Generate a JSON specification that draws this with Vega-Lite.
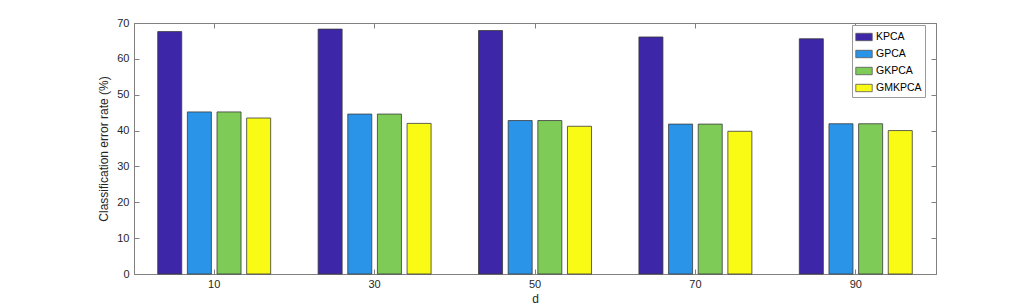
{
  "$schema": "https://vega.github.io/schema/vega-lite/v6.json",
  "width": 802,
  "height": 251,
  "autosize": {"type": "none"},
  "padding": {"left": 134, "top": 23, "right": 99, "bottom": 34},
  "background": "white",
  "config": {
    "font": "Liberation Sans",
    "view": {"stroke": "#808080", "strokeWidth": 1},
    "axis": {
      "domainColor": "#808080",
      "tickColor": "#808080",
      "labelColor": "#262626",
      "titleColor": "#262626",
      "labelFont": "Liberation Sans",
      "titleFont": "Liberation Sans",
      "labelFontSize": 11,
      "titleFontSize": 12,
      "titleFontWeight": "normal",
      "grid": false
    }
  },
  "data": {
    "values": [
      {"d": "10", "method": "KPCA", "rate": 67.6},
      {"d": "10", "method": "GPCA", "rate": 45.2},
      {"d": "10", "method": "GKPCA", "rate": 45.2},
      {"d": "10", "method": "GMKPCA", "rate": 43.5},
      {"d": "30", "method": "KPCA", "rate": 68.3},
      {"d": "30", "method": "GPCA", "rate": 44.6},
      {"d": "30", "method": "GKPCA", "rate": 44.6},
      {"d": "30", "method": "GMKPCA", "rate": 42.0},
      {"d": "50", "method": "KPCA", "rate": 67.9},
      {"d": "50", "method": "GPCA", "rate": 42.8},
      {"d": "50", "method": "GKPCA", "rate": 42.8},
      {"d": "50", "method": "GMKPCA", "rate": 41.2},
      {"d": "70", "method": "KPCA", "rate": 66.1},
      {"d": "70", "method": "GPCA", "rate": 41.8},
      {"d": "70", "method": "GKPCA", "rate": 41.8},
      {"d": "70", "method": "GMKPCA", "rate": 39.8},
      {"d": "90", "method": "KPCA", "rate": 65.6},
      {"d": "90", "method": "GPCA", "rate": 41.9},
      {"d": "90", "method": "GKPCA", "rate": 41.9},
      {"d": "90", "method": "GMKPCA", "rate": 40.0}
    ]
  },
  "layer": [
    {
      "mark": {"type": "bar", "stroke": "#3a3a3a", "strokeWidth": 0.8},
      "encoding": {
        "x": {
          "field": "d", "type": "ordinal", "sort": null,
          "scale": {"paddingInner": 0, "paddingOuter": 0},
          "axis": {"title": "d", "labelAngle": 0, "tickSize": -5, "labelPadding": 9, "titlePadding": 4, "orient": "bottom"}
        },
        "xOffset": {
          "field": "method", "type": "nominal",
          "sort": ["KPCA", "GPCA", "GKPCA", "GMKPCA"],
          "scale": {"paddingInner": 0.19, "paddingOuter": 0.8}
        },
        "y": {
          "field": "rate", "type": "quantitative",
          "scale": {"domain": [0, 70], "nice": false},
          "axis": {"title": "Classification error rate (%)", "values": [0,10,20,30,40,50,60,70], "tickSize": -5, "labelPadding": 10, "titlePadding": 6, "orient": "left"}
        },
        "color": {
          "field": "method", "type": "nominal",
          "sort": ["KPCA", "GPCA", "GKPCA", "GMKPCA"],
          "scale": {"domain": ["KPCA", "GPCA", "GKPCA", "GMKPCA"], "range": ["#3e26a8", "#2a94e8", "#7fcb57", "#f9fb15"]},
          "legend": {
            "title": null,
            "orient": "none",
            "legendX": 718,
            "legendY": 2,
            "symbolType": "M-1,-0.45H1V0.45H-1Z",
            "symbolSize": 270,
            "symbolStrokeColor": "#555555",
            "symbolStrokeWidth": 0.8,
            "labelFontSize": 10.5,
            "labelColor": "#000000",
            "labelOffset": 3,
            "rowPadding": 2,
            "strokeColor": "#9a9a9a",
            "fillColor": "white",
            "padding": 3,
            "symbolOffset": 0
          }
        }
      }
    },
    {
      "mark": {"type": "bar", "opacity": 0},
      "encoding": {
        "x": {
          "field": "d", "type": "ordinal", "sort": null,
          "axis": {"title": null, "labels": false, "tickSize": -5, "orient": "top"}
        },
        "xOffset": {"field": "method", "type": "nominal", "sort": ["KPCA", "GPCA", "GKPCA", "GMKPCA"]},
        "y": {
          "field": "rate", "type": "quantitative",
          "axis": {"title": null, "labels": false, "values": [0,10,20,30,40,50,60,70], "tickSize": -5, "orient": "right"}
        }
      }
    }
  ],
  "resolve": {"axis": {"x": "independent", "y": "independent"}}
}
